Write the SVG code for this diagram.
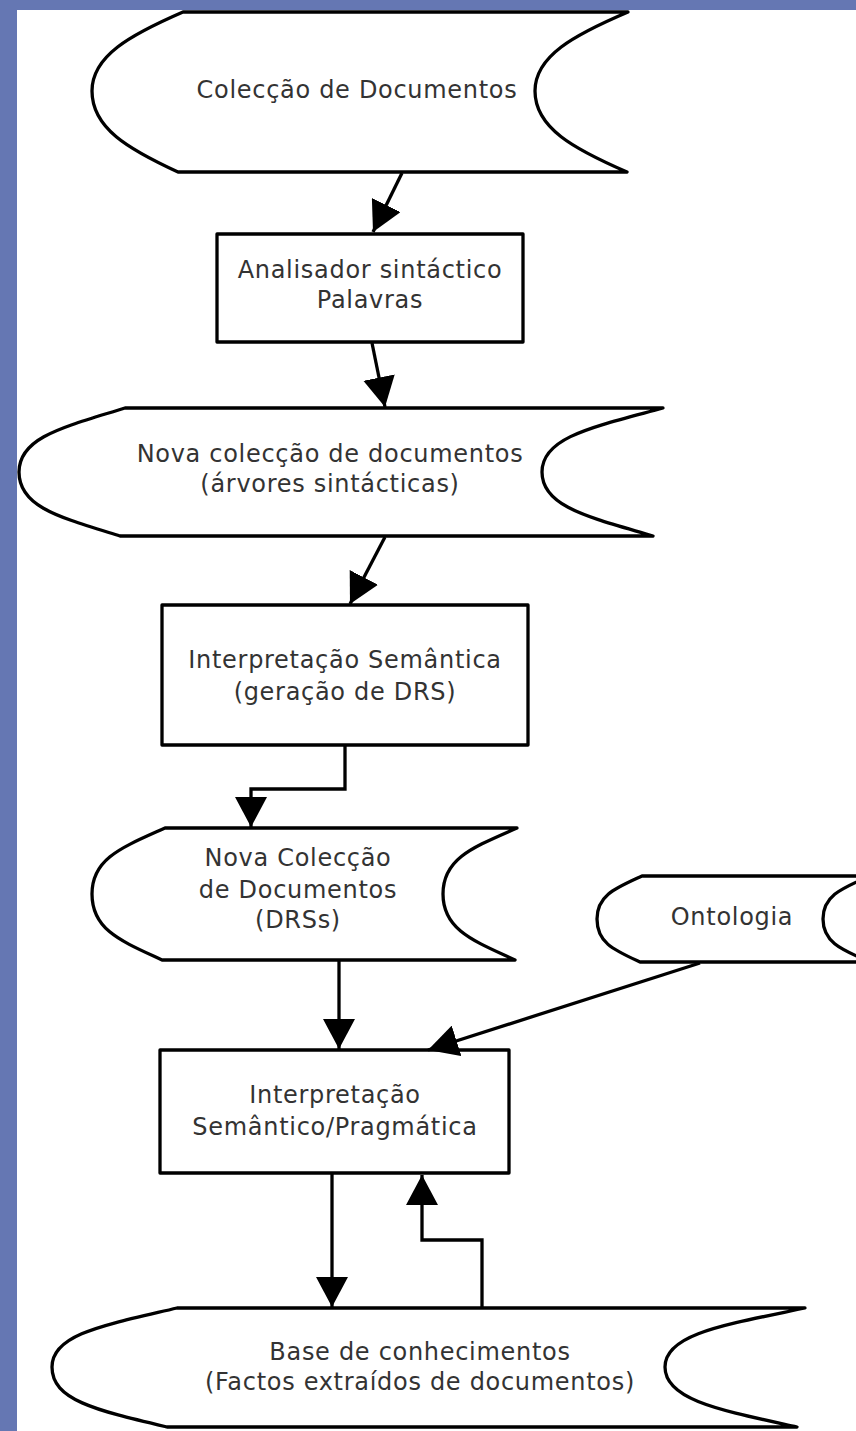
<svg xmlns="http://www.w3.org/2000/svg" width="856" height="1431" viewBox="0 0 856 1431">
<defs>
<style>
.shape{fill:#ffffff;stroke:#000000;stroke-width:3.3;stroke-linejoin:round}
.lbl{font-family:"DejaVu Sans","Verdana",sans-serif;font-size:24px;letter-spacing:0.7px;fill:#333333;text-anchor:middle}
.conn{fill:none;stroke:#000000;stroke-width:3.3;marker-end:url(#ah)}
</style>
<marker id="ah" markerUnits="userSpaceOnUse" markerWidth="30" markerHeight="32" refX="30" refY="16" orient="auto" viewBox="0 0 30 32">
<path d="M0,0 L30,16 L0,32 Z" fill="#000000"/>
</marker>
</defs>
<rect x="0" y="0" width="856" height="1431" fill="#6577b3"/>
<rect x="17" y="10" width="839" height="1421" fill="#ffffff"/>

<g id="colecao">
<path class="shape" d="M183,12 L628,12 C574,35 535,56 535,91 C535,128 574,149 627,172 L178,172 C128,149 92,128 92,91 C92,56 130,35 183,12 Z"/>
<text class="lbl" x="357" y="98">Colecção de Documentos</text>
</g>

<g id="analisador">
<rect class="shape" x="217" y="234" width="306" height="108"/>
<text class="lbl" x="370" y="278">Analisador sintáctico</text>
<text class="lbl" x="370" y="308">Palavras</text>
</g>

<g id="nova-colecao">
<path class="shape" d="M125,408 L663,408 C593,427 542,437 542,472 C542,507 589,517 653,536 L120,536 C59,517 19,507 19,472 C19,437 64,427 125,408 Z"/>
<text class="lbl" x="330" y="462">Nova colecção de documentos</text>
<text class="lbl" x="330" y="492">(árvores sintácticas)</text>
</g>

<g id="interp-semantica">
<rect class="shape" x="162" y="605" width="366" height="140"/>
<text class="lbl" x="345" y="668">Interpretação Semântica</text>
<text class="lbl" x="345" y="700">(geração de DRS)</text>
</g>

<g id="drs">
<path class="shape" d="M165,828 L517,828 C474,847 443,858 443,894 C443,930 474,941 515,960 L162,960 C121,941 92,930 92,894 C92,858 123,847 165,828 Z"/>
<text class="lbl" x="298" y="866">Nova Colecção</text>
<text class="lbl" x="298" y="898">de Documentos</text>
<text class="lbl" x="298" y="928">(DRSs)</text>
</g>

<g id="ontologia">
<path class="shape" d="M642,876 L870,876 C843,888 823,895 823,919 C823,943 843,950 870,962 L640,962 C614,950 597,943 597,919 C597,895 616,888 642,876 Z"/>
<text class="lbl" x="732" y="925">Ontologia</text>
</g>

<g id="interp-pragmatica">
<rect class="shape" x="160" y="1050" width="349" height="123"/>
<text class="lbl" x="335" y="1103">Interpretação</text>
<text class="lbl" x="335" y="1135">Semântico/Pragmática</text>
</g>

<g id="base">
<path class="shape" d="M177,1308 L805,1308 C724,1325 665,1334 665,1367 C665,1400 720,1410 797,1427 L167,1427 C95,1410 52,1400 52,1367 C52,1334 105,1325 177,1308 Z"/>
<text class="lbl" x="420" y="1360">Base de conhecimentos</text>
<text class="lbl" x="420" y="1390">(Factos extraídos de documentos)</text>
</g>

<g id="connectors">
<path class="conn" d="M402,173 L373,232"/>
<path class="conn" d="M372,343 L385,407"/>
<path class="conn" d="M385,537 L350,604"/>
<path class="conn" d="M345,745 L345,789 L251,789 L251,827"/>
<path class="conn" d="M339,961 L339,1049"/>
<path class="conn" d="M700,963 L428,1050"/>
<path class="conn" d="M332,1173 L332,1307"/>
<path class="conn" d="M482,1308 L482,1240 L422,1240 L422,1175"/>
</g>
</svg>
